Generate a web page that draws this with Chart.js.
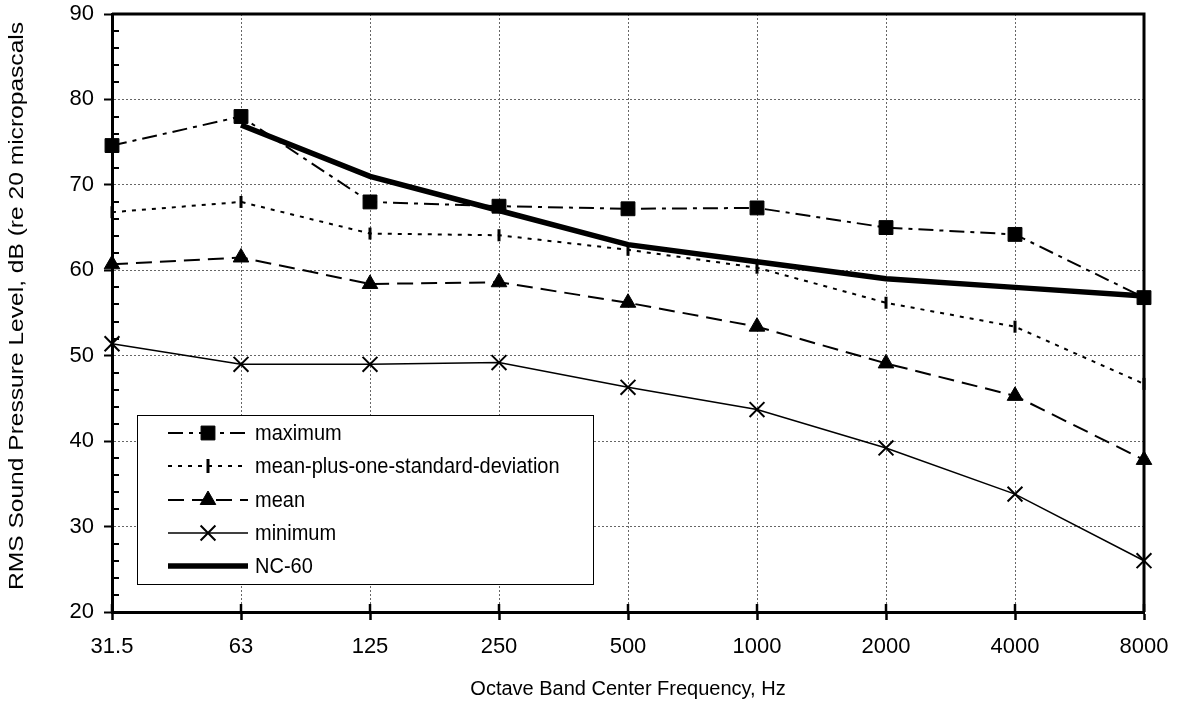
<!DOCTYPE html>
<html><head><meta charset="utf-8">
<style>html,body{margin:0;padding:0;background:#fff;} #wrap{width:1177px;height:703px;position:relative;}</style>
<script src="https://cdn.jsdelivr.net/npm/chart.js@4.4.1/dist/chart.umd.min.js"></script>
</head><body><div id="wrap"><canvas id="c" width="1177" height="703"></canvas></div>
<script>
const categories = ['31.5','63','125','250','500','1000','2000','4000','8000'];
const maximum    = [74.6, 78.0, 68.0, 67.5, 67.2, 67.3, 65.0, 64.2, 56.8];
const meanPlusSD = [66.8, 68.0, 64.3, 64.1, 62.4, 60.3, 56.2, 53.4, 46.7];
const mean       = [60.7, 61.5, 58.4, 58.6, 56.2, 53.4, 49.1, 45.3, 37.8];
const minimum    = [51.4, 49.0, 49.0, 49.2, 46.3, 43.7, 39.2, 33.8, 26.0];
const nc60       = [null, 77, 71, 67, 63, 61, 59, 58, 57];
const seriesNames = ['maximum','mean-plus-one-standard-deviation','mean','minimum','NC-60'];
const yMin = 20, yMax = 90, yStep = 10, yMinorStep = 2;
const xTitle = 'Octave Band Center Frequency, Hz';
const yTitle = 'RMS Sound Pressure Level, dB (re 20 micropascals';

const FONT = '"Liberation Sans", Arial, Helvetica, sans-serif';

function drawMarker(ctx, m, x, y) {
  if (!m) return;
  const r = m.r;
  ctx.save();
  ctx.setLineDash([]);
  ctx.lineWidth = m.bw;
  ctx.strokeStyle = '#000';
  ctx.fillStyle = '#000';
  ctx.beginPath();
  if (m.style === 'rect') {
    const s = Math.SQRT1_2 * r;
    ctx.rect(x - s, y - s, 2 * s, 2 * s);
    ctx.fill(); ctx.stroke();
  } else if (m.style === 'triangle') {
    let rad = 0;
    ctx.moveTo(x + Math.sin(rad) * r, y - Math.cos(rad) * r);
    rad += 2 * Math.PI / 3;
    ctx.lineTo(x + Math.sin(rad) * r, y - Math.cos(rad) * r);
    rad += 2 * Math.PI / 3;
    ctx.lineTo(x + Math.sin(rad) * r, y - Math.cos(rad) * r);
    ctx.closePath();
    ctx.fill(); ctx.stroke();
  } else if (m.style === 'crossRot') {
    const o = Math.SQRT1_2 * r;
    ctx.moveTo(x - o, y - o); ctx.lineTo(x + o, y + o);
    ctx.moveTo(x - o, y + o); ctx.lineTo(x + o, y - o);
    ctx.stroke();
  } else if (m.style === 'vline') {
    ctx.moveTo(x, y - r); ctx.lineTo(x, y + r);
    ctx.stroke();
  }
  ctx.restore();
}

const decor = {
  id: 'decor',
  beforeDatasetsDraw(chart) {
    const ctx = chart.ctx, a = chart.chartArea, ys = chart.scales.y, xs = chart.scales.x;
    ctx.save();
    ctx.strokeStyle = '#000';
    ctx.setLineDash([]);
    ctx.lineWidth = 2;
    for (let v = yMin; v <= yMax; v += yMinorStep) {
      if (v % yStep === 0) continue;
      const py = Math.round(ys.getPixelForValue(v));
      ctx.beginPath(); ctx.moveTo(a.left, py); ctx.lineTo(a.left + 7, py); ctx.stroke();
    }
    ctx.lineWidth = 2.5;
    for (let i = 0; i < categories.length; i++) {
      const px = xs.getPixelForValue(i);
      ctx.beginPath(); ctx.moveTo(px, a.bottom); ctx.lineTo(px, a.bottom - 8); ctx.stroke();
    }
    ctx.lineWidth = 3;
    ctx.beginPath();
    ctx.moveTo(a.left, a.top); ctx.lineTo(a.right, a.top); ctx.lineTo(a.right, a.bottom);
    ctx.stroke();
    ctx.restore();
  },
  afterDraw(chart) {
    const ctx = chart.ctx, a = chart.chartArea;
    // y axis title (stretched along its length like the reference)
    ctx.save();
    ctx.translate(17, 306);
    ctx.rotate(-Math.PI / 2);
    ctx.scale(1.17, 1);
    ctx.fillStyle = '#000';
    ctx.font = '21px ' + FONT;
    ctx.textAlign = 'center';
    ctx.textBaseline = 'middle';
    ctx.fillText(chart.options.scales.y.title.text, 0, 0);
    ctx.restore();

    const bx = 137, by = 415, bw = 456, bh = 169;
    ctx.save();
    ctx.fillStyle = '#fff';
    ctx.fillRect(bx, by, bw, bh);
    ctx.strokeStyle = '#000';
    ctx.lineWidth = 1;
    ctx.setLineDash([]);
    ctx.strokeRect(bx + 0.5, by + 0.5, bw, bh);
    const rowY0 = 433, rowH = 33.3;
    chart.data.datasets.forEach((ds, i) => {
      const yy = Math.round(rowY0 + i * rowH);
      ctx.save();
      ctx.strokeStyle = '#000';
      ctx.lineWidth = ds.borderWidth;
      ctx.setLineDash(ds.borderDash || []);
      ctx.beginPath(); ctx.moveTo(168, yy); ctx.lineTo(248, yy); ctx.stroke();
      ctx.restore();
      drawMarker(ctx, ds.legendMarker, 208, yy);
      ctx.save();
      ctx.fillStyle = '#000';
      ctx.font = '20px ' + FONT;
      ctx.textBaseline = 'middle';
      ctx.textAlign = 'left';
      ctx.translate(255, yy + 1);
      ctx.scale(1, 1.08);
      ctx.fillText(ds.label, 0, 0);
      ctx.restore();
    });
    ctx.restore();
  }
};

const ctx = document.getElementById('c').getContext('2d');
new Chart(ctx, {
  type: 'line',
  data: {
    labels: categories,
    datasets: [
      { label: seriesNames[0], data: maximum, borderColor: '#000', backgroundColor: '#000', borderWidth: 2,
        borderDash: [15, 6, 4, 6], pointStyle: 'rect', pointRadius: 9.8, pointBorderWidth: 1,
        pointBackgroundColor: '#000', pointBorderColor: '#000', clip: false, tension: 0,
        legendMarker: { style: 'rect', r: 9.8, bw: 1 } },
      { label: seriesNames[1], data: meanPlusSD, borderColor: '#000', backgroundColor: '#000', borderWidth: 2,
        borderDash: [4, 6], pointStyle: 'line', rotation: 90, pointRadius: 6, pointBorderWidth: 3,
        pointBorderColor: '#000', clip: false, tension: 0,
        legendMarker: { style: 'vline', r: 7, bw: 3 } },
      { label: seriesNames[2], data: mean, borderColor: '#000', backgroundColor: '#000', borderWidth: 2,
        borderDash: [16, 8], pointStyle: 'triangle', pointRadius: 9, pointBorderWidth: 1,
        pointBackgroundColor: '#000', pointBorderColor: '#000', clip: false, tension: 0,
        legendMarker: { style: 'triangle', r: 9, bw: 1 } },
      { label: seriesNames[3], data: minimum, borderColor: '#000', backgroundColor: 'rgba(0,0,0,0)', borderWidth: 1.5,
        pointStyle: 'crossRot', pointRadius: 10.5, pointBorderWidth: 2,
        pointBorderColor: '#000', clip: false, tension: 0,
        legendMarker: { style: 'crossRot', r: 10.5, bw: 2 } },
      { label: seriesNames[4], data: nc60, borderColor: '#000', backgroundColor: '#000', borderWidth: 5.5,
        pointRadius: 0, clip: false, tension: 0, spanGaps: false,
        legendMarker: null }
    ]
  },
  options: {
    responsive: false,
    animation: false,
    devicePixelRatio: 1,
    events: [],
    layout: { padding: { top: 14, right: 33, left: 0, bottom: 0 } },
    plugins: { legend: { display: false }, tooltip: { enabled: false } },
    scales: {
      x: {
        type: 'category',
        offset: false,
        afterFit(s) { s.height = 91; s.paddingLeft = 0; s.paddingRight = 0; },
        grid: { color: '#666', lineWidth: 1, tickLength: 8, tickColor: '#000', tickWidth: 2.5, tickBorderDash: [] },
        border: { display: true, color: '#000', width: 3, dash: [2, 2] },
        ticks: { color: '#000', font: { family: FONT, size: 22 }, padding: 14, autoSkip: false, maxRotation: 0 },
        title: { display: true, text: xTitle, color: '#000', font: { family: FONT, size: 20 }, padding: { top: 0, bottom: 2 } }
      },
      y: {
        min: yMin, max: yMax,
        afterFit(s) { s.width = 112; s.paddingTop = 0; s.paddingBottom = 0; },
        grid: { color: '#666', lineWidth: 1, tickLength: 8, tickColor: '#000', tickWidth: 2, tickBorderDash: [] },
        border: { display: true, color: '#000', width: 3, dash: [2, 2] },
        ticks: { stepSize: yStep, color: '#000', font: { family: FONT, size: 22 }, padding: 10 },
        title: { display: false, text: yTitle }
      }
    }
  },
  plugins: [decor]
});
</script>
</body></html>
